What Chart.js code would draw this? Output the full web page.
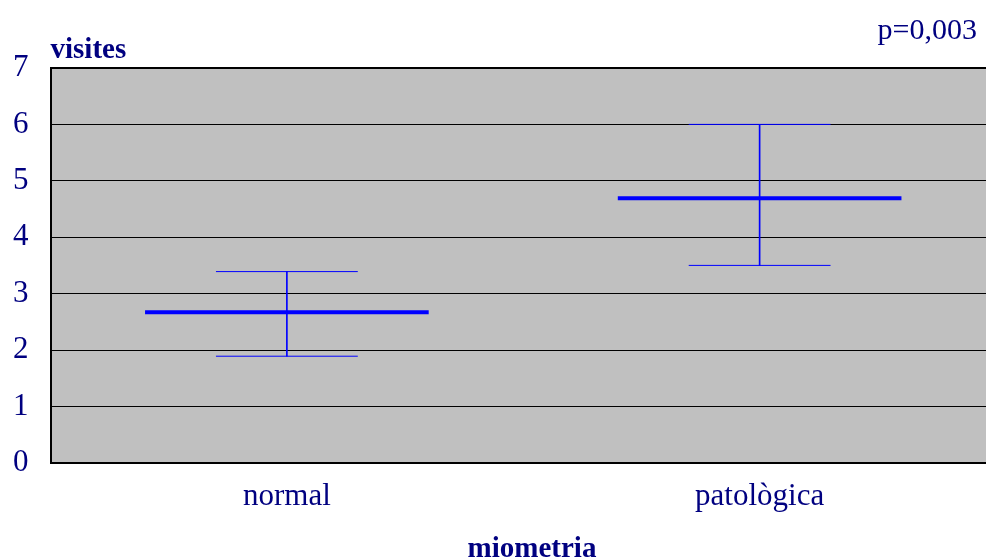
<!DOCTYPE html>
<html>
<head>
<meta charset="utf-8">
<script src="https://cdn.jsdelivr.net/npm/chart.js@4.4.0/dist/chart.umd.min.js"></script>
<style>
    html, body { margin: 0; padding: 0; background: #ffffff; overflow: hidden; }
    #wrap { width: 1000px; height: 558px; }
</style>
</head>
<body>
<div id="wrap"><canvas id="myChart" width="1000" height="558"></canvas></div>
<script>

    var categories = ["normal", "patològica"];
    var means = [2.67, 4.69];
    var upperValues = [3.39, 6.0];
    var lowerValues = [1.89, 3.5];
    var yTicks = [0, 1, 2, 3, 4, 5, 6, 7];

    var navy = "#000080";
    var blue = "#0000ff";

    // vertical bar of each error range, [low, high]
    var ranges = [];
    for (var i = 0; i < categories.length; i++) {
        ranges.push([lowerValues[i], upperValues[i]]);
    }

    var plotBackground = {
        id: "plotBackground",
        beforeDraw: function (chart) {
            var a = chart.chartArea;
            var ctx = chart.ctx;
            ctx.save();
            ctx.fillStyle = "#c0c0c0";
            ctx.fillRect(a.left, a.top, a.right - a.left, a.bottom - a.top);
            ctx.restore();
        }
    };

    var extraTexts = {
        id: "extraTexts",
        afterDraw: function (chart) {
            var a = chart.chartArea;
            var ctx = chart.ctx;
            ctx.save();
            ctx.fillStyle = navy;
            ctx.textBaseline = "alphabetic";

            ctx.font = "bold 29px 'Liberation Serif'";
            ctx.textAlign = "left";
            ctx.fillText("visites", a.left, 58);

            ctx.font = "30px 'Liberation Serif'";
            ctx.textAlign = "right";
            ctx.fillText("p=0,003", 977, 39);

            ctx.font = "bold 29px 'Liberation Serif'";
            ctx.textAlign = "center";
            ctx.fillText("miometria", 532, 557);
            ctx.restore();
        }
    };

    // mean line is 60% of a category, whiskers 30%
    function meanRadius(c) {
        return c.chart.scales.x.width * 0.15;
    }
    function whiskerRadius(c) {
        return c.chart.scales.x.width * 0.075;
    }

    new Chart("myChart", {
        data: {
            labels: categories,
            datasets: [{
                type: "line",
                data: means,
                showLine: false,
                pointStyle: "line",
                pointRadius: meanRadius,
                pointBorderWidth: 4,
                pointBorderColor: blue,
                borderColor: blue,
                order: 0
            }, {
                type: "line",
                data: upperValues,
                showLine: false,
                pointStyle: "line",
                pointRadius: whiskerRadius,
                pointBorderWidth: 1,
                pointBorderColor: blue,
                borderColor: blue,
                order: 1
            }, {
                type: "line",
                data: lowerValues,
                showLine: false,
                pointStyle: "line",
                pointRadius: whiskerRadius,
                pointBorderWidth: 1,
                pointBorderColor: blue,
                borderColor: blue,
                order: 2
            }, {
                type: "bar",
                data: ranges,
                backgroundColor: blue,
                borderWidth: 0,
                barThickness: 1,
                order: 3
            }]
        },
        options: {
            responsive: false,
            animation: false,
            events: [],
            layout: {
                padding: { left: -9, top: 68, right: 4, bottom: 28 }
            },
            plugins: {
                legend: { display: false },
                tooltip: { enabled: false },
                title: { display: false }
            },
            scales: {
                x: {
                    offset: true,
                    grid: { display: false, drawTicks: false },
                    border: { display: true, color: "#000000", width: 2 },
                    ticks: {
                        padding: 15,
                        color: navy,
                        font: { family: "'Liberation Serif'", size: 31 }
                    }
                },
                y: {
                    min: 0,
                    max: 7,
                    afterBuildTicks: function (scale) {
                        scale.ticks = yTicks.map(function (v) { return { value: v }; });
                    },
                    grid: {
                        color: "#000000",
                        lineWidth: function (c) { return c.tick && c.tick.value === 7 ? 2 : 1; },
                        drawTicks: false
                    },
                    border: { display: true, color: "#000000", width: 2 },
                    ticks: {
                        padding: 22,
                        color: navy,
                        font: { family: "'Liberation Serif'", size: 31 }
                    }
                }
            }
        },
        plugins: [plotBackground, extraTexts]
    });

</script>
</body>
</html>
